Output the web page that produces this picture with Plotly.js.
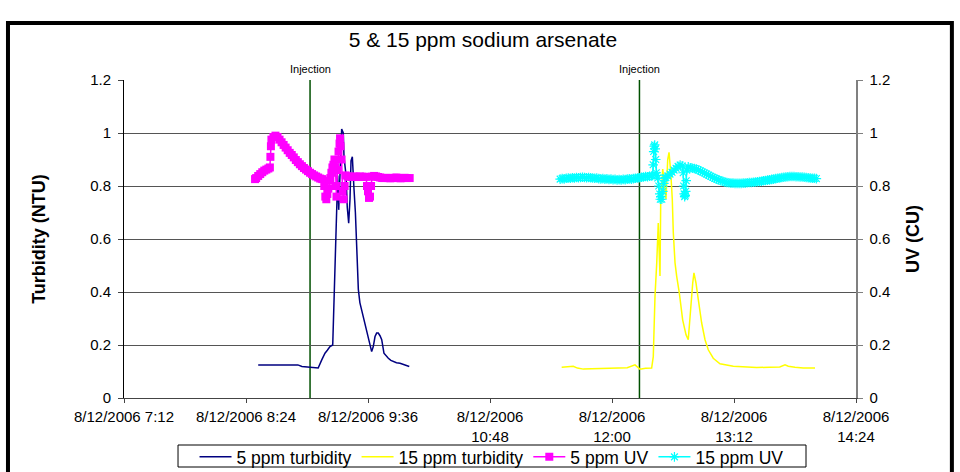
<!DOCTYPE html>
<html>
<head>
<meta charset="utf-8">
<script src="https://cdn.plot.ly/plotly-3.0.1.min.js"></script>
<style>html,body{margin:0;padding:0;background:#fff;}#chart{width:960px;height:472px;}</style>
</head>
<body>
<div id="chart"></div>
<script>
// Time is hours of the day on 8/12/2006 (7.2 = 7:12)
const tickVals = [7.2, 8.4, 9.6, 10.8, 12.0, 13.2, 14.4];
const tickText = ["8/12/2006 7:12", "8/12/2006 8:24", "8/12/2006 9:36", "8/12/2006<br>10:48", "8/12/2006<br>12:00", "8/12/2006<br>13:12", "8/12/2006<br>14:24"];
const injectionTimes = [9.03, 12.27];
const injectionLabels = ["Injection", "Injection"];

// 5 ppm turbidity (NTU)
const turb5Time = [8.52, 8.60, 8.70, 8.80, 8.91, 8.95, 9.00, 9.05, 9.11, 9.145, 9.177, 9.20, 9.226, 9.253, 9.268, 9.282, 9.292, 9.302, 9.312, 9.324, 9.341, 9.357, 9.364, 9.384, 9.396, 9.41, 9.423, 9.433, 9.446, 9.462, 9.476, 9.49, 9.505, 9.52, 9.538, 9.555, 9.57, 9.585, 9.603, 9.62, 9.636, 9.652, 9.669, 9.685, 9.701, 9.718, 9.735, 9.757, 9.78, 9.80, 9.825, 9.849, 9.88, 9.915, 9.96, 10.006];
const turb5Val  = [0.125, 0.125, 0.125, 0.125, 0.125, 0.119, 0.117, 0.116, 0.113, 0.144, 0.169, 0.18, 0.194, 0.20, 0.41, 0.62, 0.74, 0.84, 0.71, 0.83, 1.015, 1.0, 0.91, 0.84, 0.72, 0.66, 0.75, 0.895, 0.91, 0.79, 0.70, 0.56, 0.41, 0.36, 0.333, 0.30, 0.283, 0.26, 0.232, 0.20, 0.175, 0.194, 0.232, 0.245, 0.245, 0.235, 0.22, 0.169, 0.158, 0.15, 0.142, 0.137, 0.133, 0.131, 0.125, 0.119];

// 15 ppm turbidity (NTU)
const turb15Time = [11.505, 11.56, 11.619, 11.66, 11.718, 11.80, 11.90, 12.00, 12.079, 12.15, 12.226, 12.275, 12.33, 12.39, 12.406, 12.423, 12.44, 12.455, 12.472, 12.479, 12.499, 12.515, 12.531, 12.548, 12.561, 12.578, 12.593, 12.603, 12.62, 12.636, 12.662, 12.695, 12.728, 12.75, 12.774, 12.794, 12.806, 12.826, 12.849, 12.882, 12.915, 12.947, 12.996, 13.062, 13.193, 13.30, 13.423, 13.55, 13.65, 13.702, 13.734, 13.80, 13.882, 13.997];
const turb15Val  = [0.116, 0.118, 0.12, 0.113, 0.109, 0.110, 0.111, 0.112, 0.113, 0.114, 0.125, 0.109, 0.112, 0.113, 0.156, 0.384, 0.51, 0.66, 0.46, 0.737, 0.864, 0.80, 0.75, 0.90, 0.927, 0.85, 0.75, 0.624, 0.51, 0.46, 0.397, 0.295, 0.239, 0.22, 0.359, 0.434, 0.472, 0.434, 0.371, 0.283, 0.22, 0.182, 0.15, 0.129, 0.12, 0.118, 0.115, 0.116, 0.117, 0.125, 0.12, 0.116, 0.113, 0.113];

// 5 ppm UV (CU)
const uv5Time = [8.489, 8.50, 8.52, 8.54, 8.56, 8.58, 8.60, 8.62, 8.635, 8.64, 8.645, 8.65, 8.67, 8.69, 8.71, 8.73, 8.75, 8.77, 8.79, 8.81, 8.83, 8.85, 8.87, 8.89, 8.91, 8.93, 8.95, 8.97, 8.99, 9.01, 9.03, 9.05, 9.07, 9.09, 9.11, 9.13, 9.15, 9.17, 9.18, 9.19, 9.20, 9.21, 9.22, 9.23, 9.24, 9.25, 9.26, 9.27, 9.28, 9.285, 9.29, 9.30, 9.31, 9.32, 9.325, 9.33, 9.34, 9.35, 9.36, 9.37, 9.38, 9.40, 9.42, 9.44, 9.46, 9.48, 9.50, 9.52, 9.54, 9.56, 9.58, 9.59, 9.60, 9.61, 9.62, 9.63, 9.64, 9.66, 9.68, 9.70, 9.72, 9.74, 9.76, 9.78, 9.80, 9.82, 9.84, 9.86, 9.88, 9.90, 9.92, 9.94, 9.96, 9.98, 10.01];
const uv5Val  = [0.826, 0.83, 0.838, 0.845, 0.852, 0.858, 0.862, 0.866, 0.87, 0.91, 0.95, 0.975, 0.985, 0.99, 0.985, 0.975, 0.965, 0.955, 0.945, 0.935, 0.925, 0.917, 0.908, 0.898, 0.89, 0.882, 0.875, 0.868, 0.862, 0.856, 0.85, 0.845, 0.84, 0.836, 0.832, 0.828, 0.826, 0.80, 0.76, 0.75, 0.77, 0.79, 0.82, 0.83, 0.85, 0.87, 0.88, 0.90, 0.87, 0.80, 0.76, 0.86, 0.93, 0.96, 0.98, 0.95, 0.90, 0.78, 0.75, 0.80, 0.84, 0.836, 0.835, 0.834, 0.836, 0.835, 0.834, 0.836, 0.835, 0.834, 0.835, 0.80, 0.78, 0.755, 0.76, 0.80, 0.835, 0.838, 0.836, 0.834, 0.832, 0.83, 0.83, 0.831, 0.83, 0.829, 0.83, 0.831, 0.832, 0.83, 0.829, 0.83, 0.831, 0.83, 0.83];

// 15 ppm UV (CU)
const uv15Time = [11.49, 11.51, 11.53, 11.55, 11.57, 11.59, 11.61, 11.63, 11.65, 11.67, 11.69, 11.71, 11.73, 11.75, 11.77, 11.79, 11.81, 11.83, 11.85, 11.87, 11.89, 11.91, 11.93, 11.95, 11.97, 11.99, 12.01, 12.03, 12.05, 12.07, 12.09, 12.11, 12.13, 12.15, 12.17, 12.19, 12.21, 12.23, 12.25, 12.27, 12.29, 12.31, 12.33, 12.35, 12.37, 12.39, 12.40, 12.405, 12.41, 12.415, 12.42, 12.425, 12.43, 12.435, 12.44, 12.45, 12.46, 12.47, 12.475, 12.48, 12.49, 12.50, 12.51, 12.52, 12.53, 12.55, 12.57, 12.59, 12.61, 12.63, 12.65, 12.67, 12.69, 12.70, 12.705, 12.71, 12.715, 12.72, 12.725, 12.73, 12.735, 12.75, 12.77, 12.79, 12.81, 12.83, 12.85, 12.87, 12.89, 12.91, 12.93, 12.95, 12.97, 12.99, 13.01, 13.03, 13.05, 13.07, 13.09, 13.11, 13.13, 13.15, 13.17, 13.19, 13.21, 13.23, 13.25, 13.27, 13.29, 13.31, 13.33, 13.35, 13.37, 13.39, 13.41, 13.43, 13.45, 13.47, 13.49, 13.51, 13.53, 13.55, 13.57, 13.59, 13.61, 13.63, 13.65, 13.67, 13.69, 13.71, 13.73, 13.75, 13.77, 13.79, 13.81, 13.83, 13.85, 13.87, 13.89, 13.91, 13.93, 13.95, 13.97, 13.99, 14.01];
const uv15Val  = [0.826, 0.828, 0.827, 0.829, 0.83, 0.829, 0.831, 0.83, 0.832, 0.831, 0.832, 0.833, 0.832, 0.831, 0.832, 0.831, 0.83, 0.829, 0.83, 0.828, 0.827, 0.828, 0.826, 0.827, 0.825, 0.826, 0.824, 0.825, 0.823, 0.824, 0.823, 0.825, 0.824, 0.826, 0.827, 0.826, 0.828, 0.829, 0.83, 0.831, 0.833, 0.834, 0.836, 0.835, 0.837, 0.838, 0.84, 0.88, 0.93, 0.95, 0.955, 0.94, 0.90, 0.85, 0.84, 0.83, 0.80, 0.77, 0.75, 0.76, 0.75, 0.78, 0.81, 0.83, 0.832, 0.838, 0.845, 0.852, 0.86, 0.867, 0.874, 0.879, 0.876, 0.85, 0.80, 0.77, 0.76, 0.765, 0.78, 0.82, 0.86, 0.872, 0.869, 0.867, 0.866, 0.864, 0.86, 0.857, 0.853, 0.849, 0.845, 0.841, 0.837, 0.833, 0.829, 0.826, 0.823, 0.82, 0.818, 0.815, 0.813, 0.812, 0.811, 0.811, 0.81, 0.81, 0.81, 0.81, 0.811, 0.811, 0.812, 0.813, 0.813, 0.814, 0.815, 0.816, 0.817, 0.818, 0.82, 0.821, 0.822, 0.823, 0.825, 0.826, 0.828, 0.829, 0.83, 0.832, 0.833, 0.834, 0.835, 0.836, 0.836, 0.836, 0.835, 0.835, 0.834, 0.834, 0.833, 0.832, 0.831, 0.83, 0.829, 0.829, 0.828];

const FONT = "Liberation Sans, Arial, sans-serif";

const traces = [
  {x: turb5Time, y: turb5Val, name: "5 ppm turbidity", type: "scatter", mode: "lines",
   line: {color: "#000080", width: 1.5}, yaxis: "y"},
  {x: turb15Time, y: turb15Val, name: "15 ppm turbidity", type: "scatter", mode: "lines",
   line: {color: "#FFFF00", width: 1.5}, yaxis: "y"},
  {x: uv5Time, y: uv5Val, name: "5 ppm UV", type: "scatter", mode: "lines+markers",
   line: {color: "#FF00FF", width: 1.5}, marker: {symbol: "square", size: 8, color: "#FF00FF"}, yaxis: "y2"},
  {x: uv15Time, y: uv15Val, name: "15 ppm UV", type: "scatter", mode: "lines+markers",
   line: {color: "#00FFFF", width: 1.5}, marker: {symbol: "asterisk-open", size: 8, color: "#00FFFF", line: {color: "#00FFFF", width: 1.2}}, yaxis: "y2"}
];

const shapes = injectionTimes.map(t => ({
  type: "line", xref: "x", yref: "y", x0: t, x1: t, y0: 0, y1: 1.2,
  line: {color: "#005000", width: 1.5}, layer: "below"
}));
// outer chart frame
shapes.push({type: "rect", xref: "paper", yref: "paper", x0: -0.1585, x1: 1.131, y0: -0.26, y1: 1.179,
  line: {color: "#000", width: 4}, fillcolor: "rgba(0,0,0,0)"});
// legend frame
shapes.push({type: "rect", xref: "paper", yref: "paper", x0: 0.0738, x1: 0.9317, y0: -0.217, y1: -0.1478,
  line: {color: "#000", width: 1}, fillcolor: "rgba(0,0,0,0)"});

const annotations = injectionTimes.map((t, i) => ({
  x: t, y: 1.2, xref: "x", yref: "y", text: injectionLabels[i], showarrow: false,
  yshift: 11, font: {family: FONT, size: 11, color: "#000"}
}));

const layout = {
  width: 960, height: 472,
  margin: {l: 124, r: 104, t: 80, b: 74},
  paper_bgcolor: "#fff", plot_bgcolor: "#fff",
  font: {family: FONT, color: "#000"},
  title: {text: "5 & 15 ppm sodium arsenate", font: {family: FONT, size: 21, color: "#000"},
    xref: "container", x: 0.503, y: 0.915, yanchor: "middle"},
  showlegend: true,
  legend: {orientation: "h", xref: "container", yref: "container", x: 0.512, xanchor: "center",
    y: 0.0318, yanchor: "middle",
    borderwidth: 0, bgcolor: "rgba(0,0,0,0)", font: {family: FONT, size: 17.5},
    itemwidth: 32, tracegroupgap: 0},
  xaxis: {range: [7.2, 14.4], tickvals: tickVals, ticktext: tickText, showgrid: false, automargin: false,
    zeroline: false, showline: true, linecolor: "#444", linewidth: 1, ticks: "outside", ticklen: 4,
    ticklabelstandoff: 1,
    tickcolor: "#444", tickfont: {family: FONT, size: 15}, tickangle: 0},
  yaxis: {range: [0, 1.2], dtick: 0.2, showgrid: true, gridcolor: "#555", gridwidth: 1, automargin: false,
    zeroline: false, showline: true, linecolor: "#000", linewidth: 1, ticks: "outside", ticklen: 5,
    ticklabelstandoff: 4, tickfont: {family: FONT, size: 15},
    title: {text: "Turbidity (NTU)", font: {family: FONT, size: 18, weight: "bold"}, standoff: 39}},
  yaxis2: {range: [0, 1.2], dtick: 0.2, overlaying: "y", side: "right", showgrid: false, automargin: false,
    zeroline: false, showline: true, linecolor: "#808080", linewidth: 1.5, ticks: "outside", ticklen: 5,
    ticklabelstandoff: 4, tickcolor: "#808080", tickfont: {family: FONT, size: 15},
    title: {text: "UV (CU)", font: {family: FONT, size: 18, weight: "bold"}, standoff: 17}},
  shapes: shapes,
  annotations: annotations
};

Plotly.newPlot("chart", traces, layout, {displayModeBar: false, staticPlot: true});
</script>
</body>
</html>
